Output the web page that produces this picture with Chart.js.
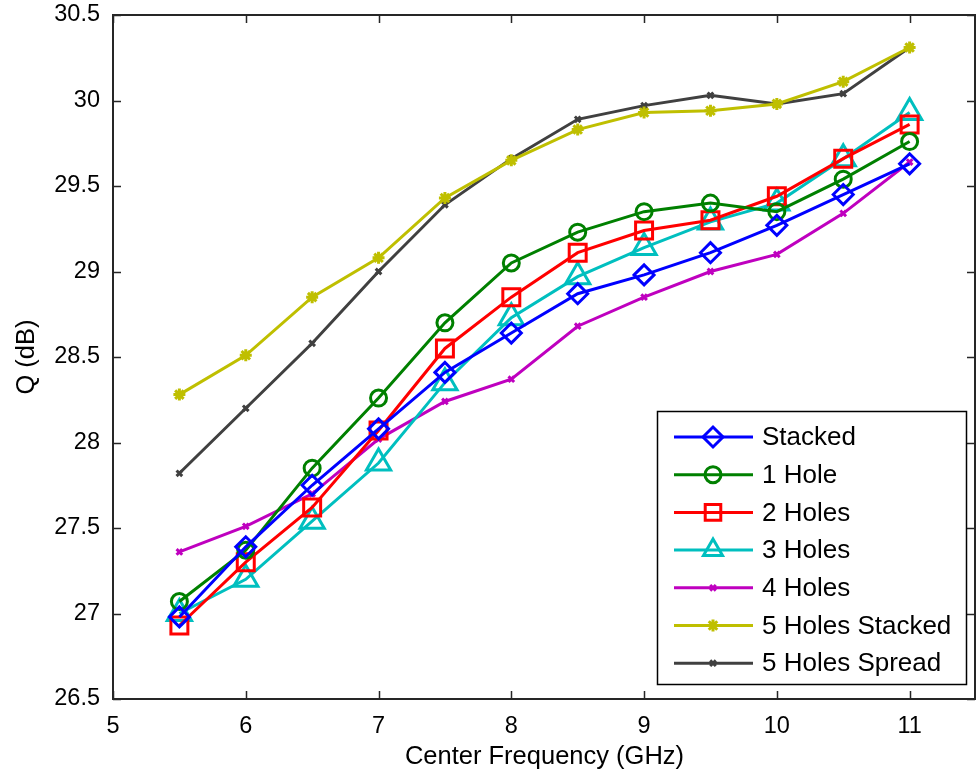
<!DOCTYPE html>
<html>
<head>
<meta charset="utf-8">
<script src="https://cdn.jsdelivr.net/npm/chart.js@4.4.1/dist/chart.umd.min.js"></script>
<style>
  html, body { margin: 0; padding: 0; background: #fff; }
  #wrap { width: 976px; height: 774px; }
</style>
</head>
<body>
<div id="wrap"><canvas id="c" width="976" height="774"></canvas></div>
<script>
// frequencies (GHz)
const freqs = [5.5, 6, 6.5, 7, 7.5, 8, 8.5, 9, 9.5, 10, 10.5, 11];

// Q values (dB) per configuration
const stacked      = [26.98, 27.39, 27.75, 28.08, 28.41, 28.64, 28.87, 28.98, 29.11, 29.27, 29.45, 29.63];
const hole1        = [27.07, 27.37, 27.85, 28.26, 28.70, 29.05, 29.23, 29.35, 29.40, 29.35, 29.54, 29.76];
const holes2       = [26.93, 27.30, 27.62, 28.07, 28.55, 28.85, 29.11, 29.24, 29.30, 29.44, 29.66, 29.86];
const holes3       = [27.00, 27.20, 27.54, 27.88, 28.35, 28.73, 28.97, 29.14, 29.29, 29.40, 29.66, 29.93];
const holes4       = [27.36, 27.51, 27.70, 28.02, 28.24, 28.37, 28.68, 28.85, 29.00, 29.10, 29.34, 29.64];
const holes5Stack  = [28.28, 28.51, 28.85, 29.08, 29.43, 29.65, 29.83, 29.93, 29.94, 29.98, 30.11, 30.31];
const holes5Spread = [27.82, 28.20, 28.58, 29.00, 29.39, 29.66, 29.89, 29.97, 30.03, 29.98, 30.04, 30.31];

const xTicks = [5, 6, 7, 8, 9, 10, 11];
const yTicks = [26.5, 27, 27.5, 28, 28.5, 29, 29.5, 30, 30.5];

const series = [
  { label: 'Stacked',         data: stacked,      color: '#0000ff', style: 'rectRot',  r: 10 },
  { label: '1 Hole',          data: hole1,        color: '#008000', style: 'circle',   r: 8 },
  { label: '2 Holes',         data: holes2,       color: '#ff0000', style: 'rect',     r: 12 },
  { label: '3 Holes',         data: holes3,       color: '#00bfbf', style: 'triangle', r: 14 },
  { label: '4 Holes',         data: holes4,       color: '#bf00bf', style: 'crossRot', r: 4 },
  { label: '5 Holes Stacked', data: holes5Stack,  color: '#bfbf00', style: 'star',     r: 6 },
  { label: '5 Holes Spread',  data: holes5Spread, color: '#404040', style: 'crossRot', r: 4 }
];

const FONT = 'Arial, "Liberation Sans", sans-serif';

const datasets = series.map(s => ({
  label: s.label,
  data: freqs.map((f, i) => ({ x: f, y: s.data[i] })),
  borderColor: s.color,
  backgroundColor: 'rgba(0,0,0,0)',
  borderWidth: 3,
  pointStyle: s.style,
  pointRadius: s.r,
  pointBorderWidth: 3,
  pointBorderColor: s.color,
  pointBackgroundColor: 'rgba(0,0,0,0)',
  tension: 0
}));

// box, inward ticks and legend like the original figure
const framePlugin = {
  id: 'frame',
  afterDraw(chart) {
    const ctx = chart.ctx;
    const a = chart.chartArea;
    const xs = chart.scales.x, ys = chart.scales.y;
    ctx.save();
    ctx.strokeStyle = '#262626';
    ctx.lineWidth = 1.5;
    ctx.beginPath();
    xTicks.forEach(v => {
      const px = Math.round(xs.getPixelForValue(v)) + 0.5;
      ctx.moveTo(px, a.bottom); ctx.lineTo(px, a.bottom - 8);
      ctx.moveTo(px, a.top); ctx.lineTo(px, a.top + 8);
    });
    yTicks.forEach(v => {
      const py = Math.round(ys.getPixelForValue(v)) + 0.5;
      ctx.moveTo(a.left, py); ctx.lineTo(a.left + 8, py);
      ctx.moveTo(a.right - 1, py); ctx.lineTo(a.right - 9, py);
    });
    ctx.stroke();
    ctx.lineWidth = 2;
    ctx.strokeRect(a.left, a.top, a.right - a.left - 1, a.bottom - a.top);

    // legend
    const lx = 657, ly = 411, lw = 309, lh = 273;
    ctx.fillStyle = '#fff';
    ctx.fillRect(lx, ly, lw, lh);
    ctx.strokeStyle = '#000';
    ctx.lineWidth = 1.5;
    ctx.strokeRect(lx + 0.5, ly + 0.5, lw, lh);
    ctx.font = '26px ' + FONT;
    ctx.textBaseline = 'middle';
    ctx.textAlign = 'left';
    series.forEach((s, i) => {
      const y = ly + 26 + i * 37.7;
      ctx.strokeStyle = s.color;
      ctx.lineWidth = 3;
      ctx.beginPath();
      ctx.moveTo(lx + 17, y); ctx.lineTo(lx + 96, y);
      ctx.stroke();
      ctx.fillStyle = 'rgba(0,0,0,0)';
      Chart.helpers.drawPoint(ctx, {
        pointStyle: s.style,
        radius: Math.min(s.r, 11),
        rotation: 0,
        borderWidth: 3
      }, lx + 56, y);
      ctx.fillStyle = '#000';
      ctx.fillText(s.label, lx + 105, y + 1);
    });
    ctx.restore();
  }
};

new Chart(document.getElementById('c'), {
  type: 'line',
  data: { datasets },
  options: {
    responsive: false,
    animation: false,
    layout: { autoPadding: false, padding: { top: 15, right: 0, left: 0, bottom: 0 } },
    plugins: {
      legend: { display: false },
      tooltip: { enabled: false }
    },
    scales: {
      x: {
        type: 'linear',
        min: 5,
        max: 11.5,
        afterBuildTicks(scale) { scale.ticks = xTicks.map(v => ({ value: v })); },
        afterFit(scale) {
          scale.height = 75;
          scale.paddingLeft = 0;
          scale.paddingRight = 0;
        },
        grid: { display: false },
        border: { display: false },
        ticks: {
          color: '#000',
          padding: 5,
          maxRotation: 0,
          font: { family: FONT, size: 23.5 },
          callback: v => String(v)
        },
        title: {
          display: true,
          text: 'Center Frequency (GHz)',
          color: '#000',
          font: { family: FONT, size: 25.5 },
          padding: { top: 0, bottom: 2 }
        }
      },
      y: {
        min: 26.5,
        max: 30.5,
        afterBuildTicks(scale) { scale.ticks = yTicks.map(v => ({ value: v })); },
        afterFit(scale) {
          scale.width = 113;
          scale.paddingTop = 0;
          scale.paddingBottom = 0;
        },
        grid: { display: false },
        border: { display: false },
        ticks: {
          color: '#000',
          padding: 5,
          font: { family: FONT, size: 23.5 },
          callback: v => String(v)
        },
        title: {
          display: true,
          text: 'Q (dB)',
          color: '#000',
          font: { family: FONT, size: 25.5 },
          padding: { top: 12, bottom: 0 }
        }
      }
    }
  },
  plugins: [framePlugin]
});
</script>
</body>
</html>
